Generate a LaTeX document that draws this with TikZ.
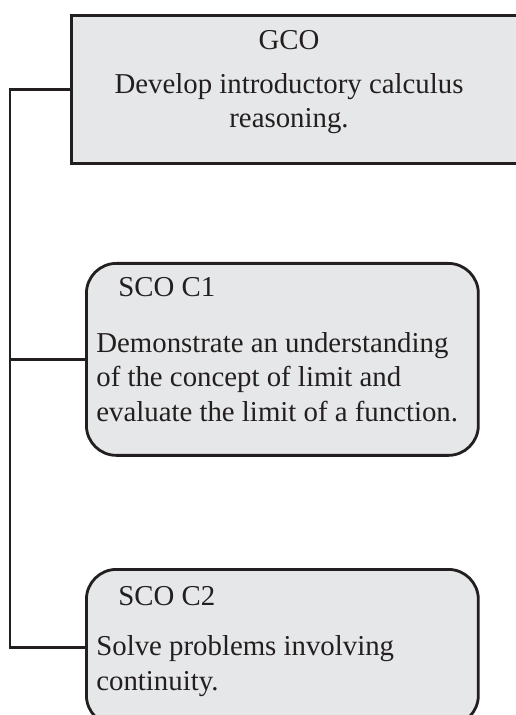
\documentclass[tikz,border=0pt]{standalone}
\usepackage{fontspec}
\setmainfont{Liberation Serif}
\usetikzlibrary{calc}
\definecolor{hopxam}{RGB}{230,231,232}
\definecolor{vien}{RGB}{35,31,32}

\begin{document}
\begin{tikzpicture}[x=0.02cm, y=-0.02cm,
        hop/.style={draw=vien, line width=1.6pt, fill=hopxam, inner sep=0pt},
        hopbo/.style={hop, rounded corners=0.6cm},
        chu/.style={text=vien, inner sep=0pt, font=\fontsize{16.4}{19.6}\selectfont},
        noi/.style={draw=vien, line width=1.6pt}]
                \path[use as bounding box, clip] (0,0) rectangle (516,715);
                % Hộp GCO
                \node[hop, anchor=north west, minimum width=9.4cm, minimum height=2.96cm] (gco) at (70,14) {};
                \node[chu, anchor=base] (gcotieude) at (289,50) {GCO};
                \node[chu, anchor=base, align=center] (gconoidung) at (289,128) {Develop introductory calculus\\reasoning.};
                % Hộp SCO C1
                \node[hopbo, anchor=north west, minimum width=7.84cm, minimum height=3.84cm] (c1) at (85,262) {};
                \node[chu, anchor=base west] (c1tieude) at (118,297) {SCO C1};
                \node[chu, anchor=base west, align=left] (c1noidung) at (96,421) {Demonstrate an understanding\\of the concept of limit and\\evaluate the limit of a function.};
                % Hộp SCO C2
                \node[hopbo, anchor=north west, minimum width=7.84cm, minimum height=3.12cm] (c2) at (85,568) {};
                \node[chu, anchor=base west] (c2tieude) at (118,605) {SCO C2};
                \node[chu, anchor=base west, align=left] (c2noidung) at (96,690) {Solve problems involving\\continuity.};
                % Đường nối
                \coordinate (truc) at (10,0);
                \draw[noi] (gco.west) -- (gco.west -| truc) |- (c2.west);
                \draw[noi] (c1.west) -- (c1.west -| truc);
\end{tikzpicture}
\end{document}
